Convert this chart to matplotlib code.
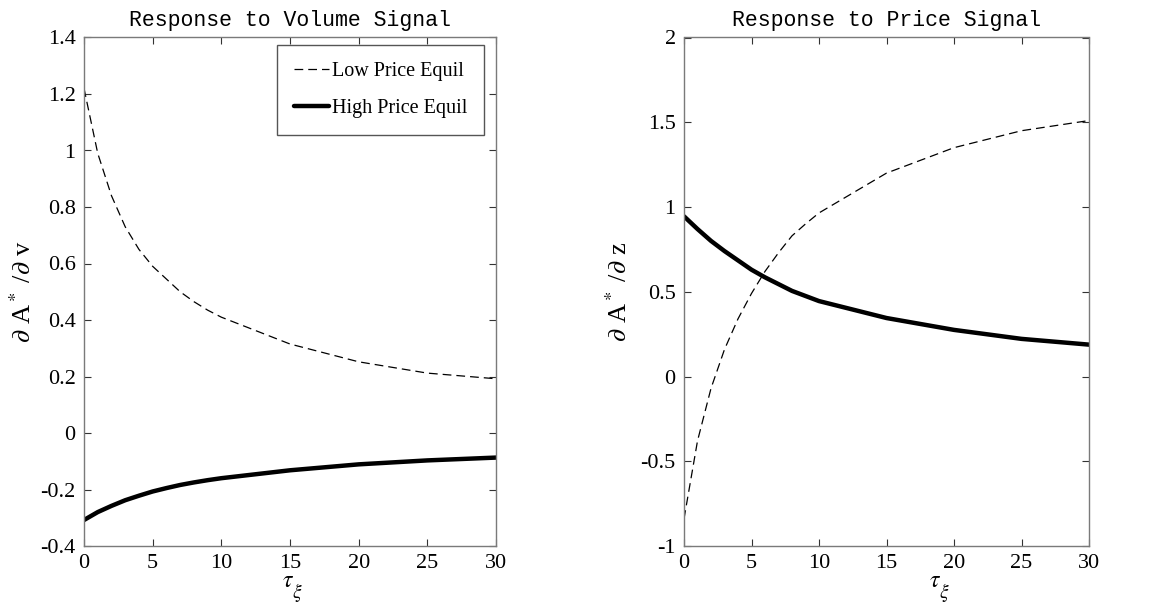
import matplotlib
matplotlib.use("Agg")
import matplotlib.pyplot as plt

# ---- data ----
tau = [0, 1, 2, 3, 4, 5, 6, 7, 8, 9, 10, 15, 20, 25, 30]

vol_low = [1.22, 0.99, 0.84, 0.73, 0.65, 0.59, 0.545, 0.50, 0.465, 0.435, 0.41,
           0.315, 0.252, 0.212, 0.192]
vol_high = [-0.308, -0.28, -0.258, -0.238, -0.222, -0.207, -0.195, -0.184, -0.175,
            -0.167, -0.16, -0.132, -0.111, -0.097, -0.087]

price_low = [-0.84, -0.38, -0.07, 0.16, 0.34, 0.49, 0.62, 0.73, 0.83, 0.90, 0.965,
             1.20, 1.35, 1.45, 1.51]
price_high = [0.945, 0.87, 0.80, 0.74, 0.685, 0.63, 0.585, 0.545, 0.505, 0.475, 0.445,
              0.345, 0.275, 0.222, 0.188]

vol_yticks = [-0.4, -0.2, 0, 0.2, 0.4, 0.6, 0.8, 1, 1.2, 1.4]
vol_yticklabels = ["-0.4", "-0.2", "0", "0.2", "0.4", "0.6", "0.8", "1", "1.2", "1.4"]
price_yticks = [-1, -0.5, 0, 0.5, 1, 1.5, 2]
price_yticklabels = ["-1", "-0.5", "0", "0.5", "1", "1.5", "2"]
xticks = [0, 5, 10, 15, 20, 25, 30]

legend_labels = ["Low Price Equil", "High Price Equil"]

plt.rcParams['mathtext.fontset'] = 'stix'
serif = 'Liberation Serif'
mono = 'Liberation Mono'

fig = plt.figure(figsize=(11.65, 6.07), dpi=100)
ax1 = fig.add_axes([84/1165, 1-546/607, 412/1165, 508.5/607])
ax2 = fig.add_axes([684/1165, 1-546/607, 405/1165, 508.5/607])

dash = (0, (7, 4))
for ax in (ax1, ax2):
    for s in ax.spines.values():
        s.set_color('#7a7a7a')
        s.set_linewidth(1.0)
    ax.tick_params(direction='in', length=5, width=0.8, color='#333333',
                   top=True, right=True, labelsize=16, pad=6)

l1, = ax1.plot(tau, vol_low, color='black', lw=0.9, linestyle=dash)
l2, = ax1.plot(tau, vol_high, color='black', lw=3.2, solid_capstyle='round')
ax1.set_xlim(0, 30)
ax1.set_ylim(-0.4, 1.4)
ax1.set_xticks(xticks)
ax1.set_xticklabels([str(t) for t in xticks], fontfamily=serif, fontsize=16)
ax1.set_yticks(vol_yticks)
ax1.set_yticklabels(vol_yticklabels, fontfamily=serif, fontsize=16)
ax1.set_title("Response to Volume Signal", fontfamily=mono, fontsize=15.5, pad=8)
ax1.set_ylabel(r"$\partial$ A$^*$ /$\partial$ v", fontfamily=serif, fontsize=19, labelpad=3)

ax2.plot(tau, price_low, color='black', lw=0.9, linestyle=dash)
ax2.plot(tau, price_high, color='black', lw=3.2, solid_capstyle='round')
ax2.set_xlim(0, 30)
ax2.set_ylim(-1, 2)
ax2.set_xticks(xticks)
ax2.set_xticklabels([str(t) for t in xticks], fontfamily=serif, fontsize=16)
ax2.set_yticks(price_yticks)
ax2.set_yticklabels(price_yticklabels, fontfamily=serif, fontsize=16)
ax2.set_title("Response to Price Signal", fontfamily=mono, fontsize=15.5, pad=8)
ax2.set_ylabel(r"$\partial$ A$^*$ /$\partial$ z", fontfamily=serif, fontsize=19, labelpad=6)

# x labels: tau with a lowered xi subscript
for ax, xc in ((ax1, 0.495), (ax2, 0.62)):
    ax.text(xc, -0.08, r"$\tau$", transform=ax.transAxes, fontsize=17,
            ha='center', va='baseline')
    ax.text(xc + 0.024, -0.103, r"$\xi$", transform=ax.transAxes, fontsize=14,
            ha='center', va='baseline')

leg = ax1.legend([l1, l2], legend_labels, loc='upper right',
                 bbox_to_anchor=(0.971, 0.985), borderaxespad=0,
                 prop={'family': serif, 'size': 14.5}, frameon=True,
                 fancybox=False, handlelength=1.7, handletextpad=0.15,
                 labelspacing=0.85, borderpad=0.85)
fr = leg.get_frame()
fr.set_edgecolor('#555555')
fr.set_linewidth(1.0)
fr.set_alpha(1)

fig.savefig("out.png", dpi=100)
